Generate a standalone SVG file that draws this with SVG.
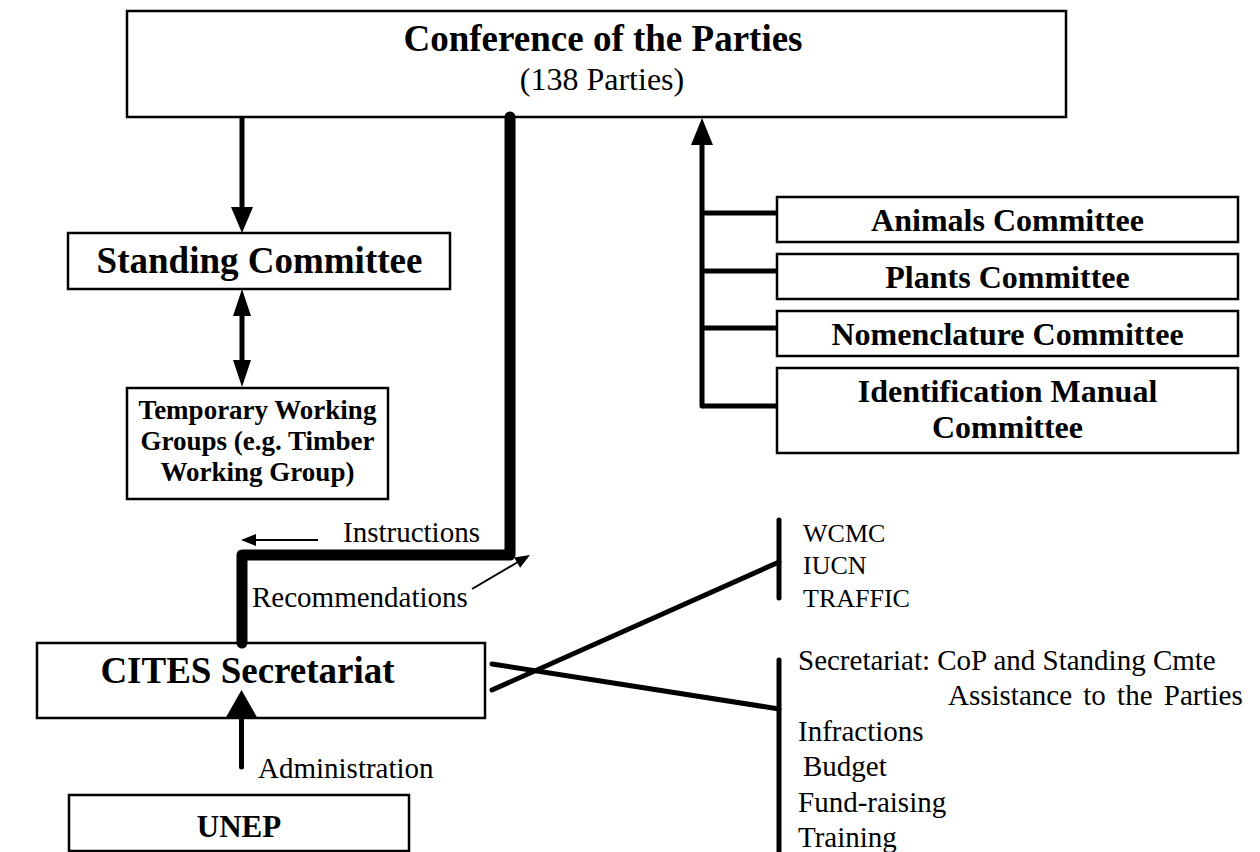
<svg xmlns="http://www.w3.org/2000/svg" width="1260" height="852" viewBox="0 0 1260 852">
<style>
  .box { fill: #ffffff; stroke: #000000; stroke-width: 2.5; }
  .b { font-family: "Liberation Serif", "Times New Roman", serif; font-weight: bold; fill: #000; text-anchor: middle; }
  .r { font-family: "Liberation Serif", "Times New Roman", serif; fill: #000; }
  .ln { stroke: #000; stroke-width: 5; fill: none; stroke-linecap: round; }
  .thick { stroke: #000; stroke-width: 11; fill: none; stroke-linecap: round; stroke-linejoin: round; }
  .thin { stroke: #000; stroke-width: 2; fill: none; }
  .head { fill: #000; stroke: none; }
</style>
<rect width="1260" height="852" fill="#ffffff"/>

<g id="cop">
  <rect class="box" x="127" y="11" width="939" height="106"/>
  <text class="b" x="603" y="51" font-size="37">Conference of the Parties</text>
  <text class="r" x="602" y="90" font-size="32" text-anchor="middle">(138 Parties)</text>
</g>

<g id="standing">
  <rect class="box" x="68" y="233" width="382" height="56"/>
  <text class="b" x="259.5" y="273" font-size="37">Standing Committee</text>
</g>

<g id="twg">
  <rect class="box" x="127" y="388" width="261" height="111"/>
  <text class="b" x="257.5" y="419" font-size="27">Temporary Working</text>
  <text class="b" x="257.5" y="450" font-size="27">Groups (e.g. Timber</text>
  <text class="b" x="257.5" y="481" font-size="27">Working Group)</text>
</g>

<g id="animals">
  <rect class="box" x="777" y="197" width="461" height="45"/>
  <text class="b" x="1007.5" y="231" font-size="32">Animals Committee</text>
</g>
<g id="plants">
  <rect class="box" x="777" y="254" width="461" height="45"/>
  <text class="b" x="1007.5" y="288" font-size="32">Plants Committee</text>
</g>
<g id="nomenclature">
  <rect class="box" x="777" y="311" width="461" height="45"/>
  <text class="b" x="1007.5" y="345" font-size="32">Nomenclature Committee</text>
</g>
<g id="identification">
  <rect class="box" x="777" y="368" width="461" height="85"/>
  <text class="b" x="1007.5" y="402" font-size="32">Identification Manual</text>
  <text class="b" x="1007.5" y="438" font-size="32">Committee</text>
</g>

<g id="secretariat">
  <rect class="box" x="37" y="643" width="448" height="75"/>
  <text class="b" x="247.5" y="683" font-size="37">CITES Secretariat</text>
</g>

<g id="unep">
  <rect class="box" x="69" y="795" width="340" height="56"/>
  <text class="b" x="239" y="837" font-size="31">UNEP</text>
</g>

<g id="connectors">
  <!-- CoP to Standing Committee -->
  <line class="ln" x1="242" y1="118" x2="242" y2="208" style="stroke-linecap:butt"/>
  <polygon class="head" points="231,207 253,207 242,233"/>
  <!-- Standing Committee <-> Temporary Working Groups -->
  <line class="ln" x1="242" y1="314" x2="242" y2="362" style="stroke-linecap:butt"/>
  <polygon class="head" points="233,316 251,316 242,289"/>
  <polygon class="head" points="233,360 251,360 242,387"/>
  <!-- Committees to CoP -->
  <line class="ln" x1="702" y1="144" x2="702" y2="406"/>
  <polygon class="head" points="691,145 713,145 702,118"/>
  <line class="ln" x1="702" y1="213" x2="777" y2="213" style="stroke-linecap:butt"/>
  <line class="ln" x1="702" y1="271" x2="777" y2="271" style="stroke-linecap:butt"/>
  <line class="ln" x1="702" y1="328" x2="777" y2="328" style="stroke-linecap:butt"/>
  <line class="ln" x1="702" y1="406" x2="777" y2="406" style="stroke-linecap:butt"/>
  <!-- Thick CoP - Secretariat path -->
  <path class="thick" d="M510,117 L510,555 L242,555 L242,643"/>
  <!-- Instructions arrow -->
  <line class="thin" x1="318" y1="540" x2="255" y2="540"/>
  <polygon class="head" points="241,540 256,534 256,546"/>
  <!-- Recommendations arrow -->
  <line class="thin" x1="472" y1="589" x2="518" y2="562"/>
  <polygon class="head" points="530,555 520.1,567.8 514.1,557.4"/>
  <!-- UNEP to CITES Secretariat -->
  <line class="ln" x1="241.5" y1="718" x2="241.5" y2="767"/>
  <polygon class="head" points="225,719 258,719 241.5,690"/>
  <!-- Secretariat to bars -->
  <line class="ln" x1="492" y1="690" x2="779" y2="562"/>
  <line class="ln" x1="492" y1="664" x2="779" y2="709"/>
  <line class="ln" x1="779" y1="520" x2="779" y2="598"/>
  <line class="ln" x1="779" y1="660" x2="779" y2="860"/>
</g>

<g id="labels">
  <text class="r" x="343" y="542" font-size="29">Instructions</text>
  <text class="r" x="252" y="607" font-size="29">Recommendations</text>
  <text class="r" x="258" y="778" font-size="29">Administration</text>
</g>

<g id="partners">
  <text class="r" x="803" y="542" font-size="26">WCMC</text>
  <text class="r" x="803" y="574" font-size="26">IUCN</text>
  <text class="r" x="803" y="607" font-size="26">TRAFFIC</text>
</g>

<g id="functions">
  <text class="r" x="798" y="670" font-size="29">Secretariat: CoP and Standing Cmte</text>
  <text class="r" x="948" y="705" font-size="29" word-spacing="4">Assistance to the Parties</text>
  <text class="r" x="798" y="741" font-size="29">Infractions</text>
  <text class="r" x="803" y="776" font-size="29">Budget</text>
  <text class="r" x="798" y="812" font-size="29">Fund-raising</text>
  <text class="r" x="798" y="847" font-size="29">Training</text>
</g>
</svg>
